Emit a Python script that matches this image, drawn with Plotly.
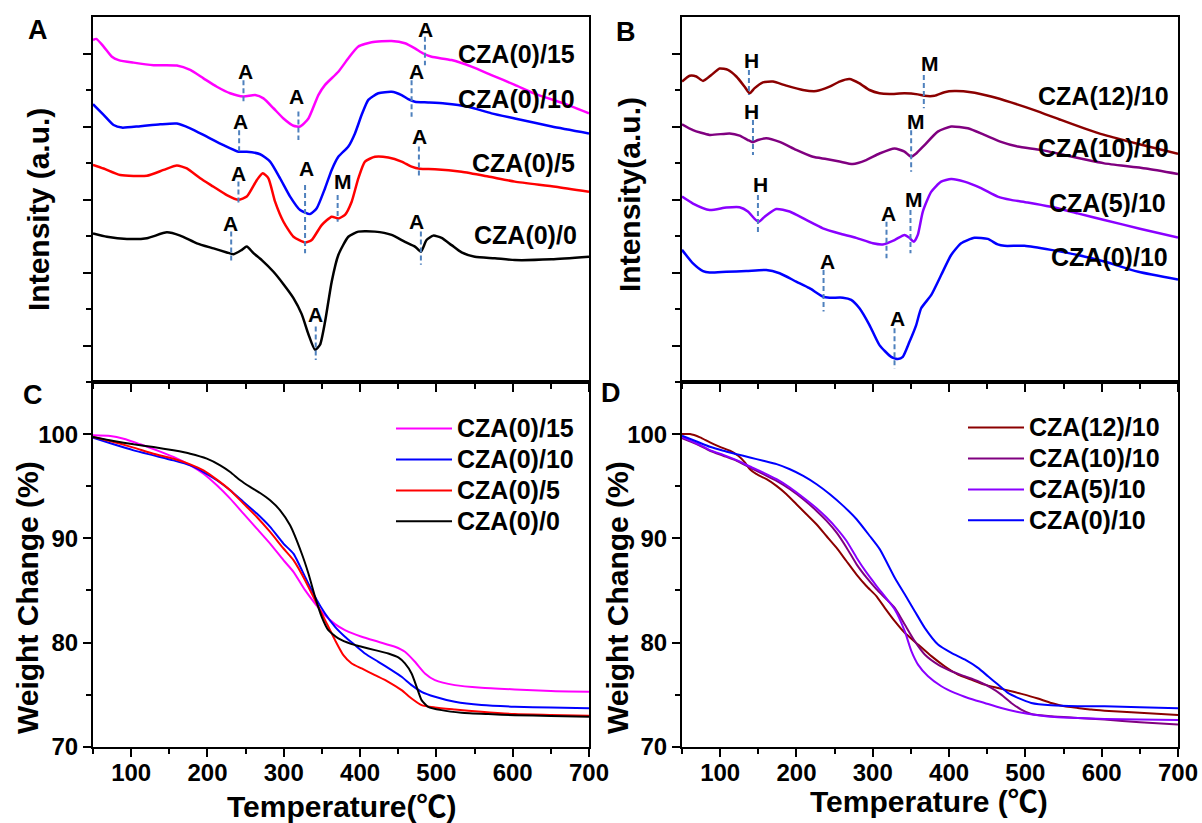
import plotly.graph_objects as go

FONT = "Liberation Sans, Arial, Noto Sans CJK SC, sans-serif"

# ---------------- Panel A (DTA, a.u.) ----------------
A15_T = [50, 54.3, 63.9, 74.8, 83.6, 103.2, 129.4, 159.9, 177.4, 194.8, 212.3, 229.7, 247.2, 262.5, 273.4, 286.5, 299.6, 312.7, 321.4, 332.3, 345.3, 354.1, 371.5, 384.6, 397.7, 415.1, 441.3, 458.8, 471.9, 482.8, 493.7, 519.9, 546.0, 572.2, 602.8, 631.2, 671.3, 700]
A15_v = [9.37, 9.40, 9.19, 8.91, 8.82, 8.75, 8.68, 8.67, 8.55, 8.32, 8.09, 7.91, 7.82, 7.86, 7.77, 7.50, 7.22, 7.02, 7.00, 7.22, 7.86, 8.14, 8.50, 8.87, 9.19, 9.31, 9.34, 9.28, 9.14, 9.00, 8.91, 8.82, 8.64, 8.41, 8.14, 7.88, 7.60, 7.36]

A10_T = [50, 63.9, 77, 87.9, 112, 138.1, 159.9, 177.4, 199.2, 221, 240.6, 251.5, 269, 282.1, 295.2, 308.3, 321.4, 334.4, 343.2, 354.1, 362.8, 371.5, 384.6, 393.3, 402.1, 410.8, 423.9, 441.3, 454.4, 463.1, 471.9, 489.3, 511.1, 541.7, 572.2, 602.8, 651.2, 700]
A10_v = [7.61, 7.32, 7.04, 6.97, 7.01, 7.06, 7.08, 6.95, 6.72, 6.49, 6.31, 6.31, 6.24, 6.04, 5.58, 5.08, 4.71, 4.60, 4.76, 5.31, 5.81, 6.17, 6.45, 6.81, 7.32, 7.73, 7.91, 7.95, 7.86, 7.75, 7.68, 7.66, 7.63, 7.54, 7.36, 7.22, 7.00, 6.81]

A5_T = [50, 63.9, 85.7, 120.6, 142.5, 159.9, 173, 190.5, 208, 225.4, 240.6, 251.5, 264.6, 272.4, 279.9, 288.6, 299.6, 312.7, 327.9, 336.6, 349.7, 362.8, 371.5, 380.2, 389, 397.7, 406.4, 419.5, 437, 454.4, 467.5, 478.4, 498.1, 533, 567.9, 602.8, 656.3, 700]
A5_v = [5.95, 5.85, 5.67, 5.65, 5.81, 5.93, 5.85, 5.58, 5.35, 5.12, 4.99, 5.08, 5.53, 5.72, 5.58, 4.94, 4.39, 3.98, 3.82, 3.89, 4.30, 4.53, 4.48, 4.58, 4.94, 5.58, 6.04, 6.17, 6.15, 6.04, 5.90, 5.84, 5.83, 5.76, 5.63, 5.49, 5.35, 5.21]

A0_T = [50, 68.3, 94.5, 120.6, 146.8, 164.3, 186.1, 208, 225.4, 234.1, 245, 251.5, 260.3, 271.2, 286.5, 299.6, 312.7, 323.5, 332.3, 341, 347.5, 354.1, 362.8, 371.5, 384.6, 397.7, 419.5, 441.3, 458.8, 471.9, 479.7, 487.1, 495.9, 506.8, 519.9, 533, 550.4, 576.6, 602.8, 651, 700]
A0_v = [4.07, 3.98, 3.92, 3.94, 4.10, 4.01, 3.80, 3.66, 3.55, 3.50, 3.62, 3.71, 3.53, 3.34, 3.02, 2.68, 2.30, 1.86, 1.31, 0.88, 1.02, 1.65, 2.75, 3.48, 3.98, 4.12, 4.12, 4.03, 3.84, 3.71, 3.57, 3.89, 4.01, 3.95, 3.75, 3.55, 3.43, 3.39, 3.34, 3.36, 3.43]

A_names = ["CZA(0)/15", "CZA(0)/10", "CZA(0)/5", "CZA(0)/0"]
A_label_T = [684, 684, 684, 687]
A_label_v = [9.00, 7.74, 6.01, 4.03]

A_pk_txt = ["A", "A", "A", "A", "A", "A", "A", "M", "A", "A", "A", "A"]
A_pk_T = [249.3, 317.0, 485.8, 243.0, 474.0, 240.6, 330.1, 378.0, 478.4, 230.7, 474.0, 341.9]
A_pk_v = [8.50, 7.82, 9.67, 7.13, 8.50, 5.72, 5.84, 5.49, 6.72, 4.35, 4.39, 1.84]
A_ln_T = [247.2, 319.2, 485.0, 241.5, 467.5, 240.6, 327.9, 370.6, 477.1, 231.1, 479.7, 341.9]
A_ln_v0 = [8.27, 7.41, 9.46, 6.90, 8.27, 5.49, 5.40, 5.12, 6.45, 4.12, 4.12, 1.52]
A_ln_v1 = [7.63, 6.63, 8.68, 6.26, 7.27, 4.89, 3.53, 4.39, 5.63, 3.25, 3.21, 0.60]

# ---------------- Panel B (DTA, a.u.) ----------------
B12_T = [50, 60.1, 68.8, 77.5, 88.4, 99.3, 110.2, 121.2, 132.1, 138.7, 145.2, 156.1, 169.2, 186.6, 208.4, 225.9, 243.4, 256.4, 269.5, 282.6, 295.7, 308.8, 321.9, 341.6, 359, 367.8, 380.8, 394, 407, 428.8, 455, 481.2, 511.7, 546.6, 577.2, 603.4, 648, 700]
B12_v = [8.23, 8.39, 8.37, 8.25, 8.41, 8.59, 8.55, 8.37, 8.09, 7.91, 8.05, 8.21, 8.23, 8.12, 8.00, 7.97, 8.09, 8.23, 8.30, 8.18, 8.00, 7.91, 7.89, 7.91, 7.88, 7.84, 7.84, 7.94, 7.97, 7.94, 7.82, 7.66, 7.45, 7.18, 6.95, 6.77, 6.52, 6.25]

B10_T = [50, 64.4, 86.2, 112.4, 125.5, 136.4, 142.9, 149.5, 160.4, 177.9, 199.7, 221.5, 239, 256.4, 273.9, 291.3, 308.8, 328.5, 341.6, 350.3, 356.9, 367.8, 385.2, 402.7, 424.5, 446.3, 468.1, 489.9, 520.5, 551, 581.5, 603.4, 658, 700]
B10_v = [7.06, 6.90, 6.77, 6.81, 6.75, 6.63, 6.57, 6.63, 6.68, 6.58, 6.36, 6.17, 6.11, 6.04, 5.97, 6.08, 6.26, 6.40, 6.31, 6.17, 6.26, 6.49, 6.86, 7.00, 6.95, 6.77, 6.58, 6.45, 6.36, 6.22, 6.08, 5.99, 5.85, 5.70]

B5_T = [50, 64.4, 86.2, 108, 125.5, 136.4, 145.2, 150.8, 158.3, 173.5, 191, 212.8, 234.6, 256.4, 278.2, 300.1, 313.2, 328.5, 341.6, 348.1, 353.8, 359, 365.6, 376.5, 389.6, 402.7, 420.1, 441.9, 463.7, 481.2, 503, 533.6, 568.5, 603.4, 650, 700]
B5_v = [5.08, 4.89, 4.71, 4.78, 4.79, 4.67, 4.47, 4.39, 4.53, 4.74, 4.67, 4.44, 4.21, 4.07, 3.95, 3.80, 3.77, 3.89, 4.03, 3.95, 3.84, 4.03, 4.67, 5.21, 5.49, 5.56, 5.49, 5.31, 5.08, 4.99, 4.92, 4.80, 4.62, 4.44, 4.20, 3.96]

B0_T = [50, 64.4, 77.5, 86.2, 108, 134.2, 160.4, 177.9, 199.7, 217.1, 234.6, 243.4, 260.8, 271.7, 282.6, 295.7, 308.8, 324.1, 332.9, 339.4, 348.1, 356.9, 363.4, 376.5, 389.6, 402.7, 415.8, 433.2, 450.7, 463.7, 472.5, 498.7, 533.6, 568.5, 603.4, 648, 700]
B0_v = [3.62, 3.25, 3.04, 3.00, 3.02, 3.04, 3.07, 2.98, 2.75, 2.57, 2.34, 2.31, 2.31, 2.25, 2.02, 1.56, 1.01, 0.69, 0.63, 0.69, 1.10, 1.56, 2.02, 2.38, 2.93, 3.48, 3.80, 3.95, 3.92, 3.77, 3.73, 3.73, 3.62, 3.48, 3.30, 3.02, 2.81]

B_names = ["CZA(12)/10", "CZA(10)/10", "CZA(5)/10", "CZA(0)/10"]
B_label_T = [691, 691, 687.5, 689.5]
B_label_v = [7.84, 6.42, 4.91, 3.43]

B_pk_txt = ["H", "M", "H", "M", "H", "A", "M", "A", "A"]
B_pk_T = [140.8, 375.6, 140.8, 356.9, 152.6, 321.0, 353.8, 241.2, 332.9]
B_pk_v = [8.82, 8.73, 7.41, 7.15, 5.40, 4.62, 4.99, 3.30, 1.74]
B_ln_T = [137.7, 366.9, 143.0, 350.3, 149.5, 318.0, 349.4, 235.5, 328.5]
B_ln_v0 = [8.55, 8.41, 7.18, 6.90, 5.12, 4.39, 4.71, 3.07, 1.47]
B_ln_v1 = [7.86, 7.50, 6.22, 5.76, 4.07, 3.39, 3.53, 1.93, 0.37]

# ---------------- Panel C (TGA, %) ----------------
C15_T = [50, 72.7, 90.2, 112, 133.8, 155.5, 177.4, 194.8, 212.3, 229.8, 247.2, 264.7, 282.1, 299.6, 312.7, 327.9, 341, 354.1, 367.2, 380.2, 402.1, 423.9, 445.7, 458.8, 471.9, 485, 498.1, 524.2, 559.1, 602.8, 650, 700]
C15_W = [99.88, 99.82, 99.56, 99.02, 98.44, 97.80, 97.00, 96.20, 95.09, 93.81, 92.37, 90.93, 89.49, 87.90, 86.78, 85.02, 83.74, 82.62, 81.76, 81.19, 80.55, 80.07, 79.59, 79.11, 78.15, 77.03, 76.39, 75.91, 75.66, 75.50, 75.35, 75.28]

C10_T = [50, 77, 103.2, 129.3, 155.5, 177.4, 194.8, 212.3, 229.8, 247.2, 264.7, 282.1, 299.6, 312.7, 327.9, 341, 354.1, 367.2, 380.2, 393.3, 406.4, 423.9, 441.3, 454.4, 467.5, 480.6, 498.1, 524.2, 559.1, 602.8, 650, 700]
C10_W = [99.66, 99.02, 98.44, 97.96, 97.48, 97.00, 96.36, 95.57, 94.61, 93.49, 92.37, 91.09, 89.49, 88.53, 86.30, 84.38, 82.78, 81.50, 80.55, 79.75, 78.95, 78.15, 77.35, 76.71, 75.91, 75.27, 74.79, 74.31, 73.99, 73.83, 73.75, 73.68]

C5_T = [50, 77, 103.2, 129.3, 155.5, 177.4, 194.8, 212.3, 229.8, 247.2, 264.7, 282.1, 299.6, 312.7, 327.9, 341, 354.1, 367.2, 378.1, 389, 402.1, 419.5, 437, 454.4, 467.5, 480.6, 498.1, 524.2, 559.1, 602.8, 650, 700]
C5_W = [99.72, 99.24, 98.70, 98.12, 97.64, 97.10, 96.52, 95.63, 94.61, 93.33, 92.05, 90.61, 89.02, 87.90, 85.98, 84.06, 82.15, 80.23, 78.79, 77.99, 77.51, 76.87, 76.23, 75.43, 74.63, 73.99, 73.77, 73.58, 73.35, 73.13, 73.05, 72.97]

C0_T = [50, 77, 103.2, 129.3, 155.5, 177.4, 199.2, 216.7, 229.8, 242.9, 255.9, 269, 282.1, 295.2, 308.3, 323.5, 332.3, 341, 349.7, 358.4, 371.5, 389, 402.1, 419.5, 437, 450.1, 458.8, 467.5, 474.1, 480.6, 489.3, 506.8, 533, 567.9, 602.8, 650, 700]
C0_W = [99.72, 99.34, 99.02, 98.76, 98.44, 98.12, 97.64, 97.00, 96.36, 95.57, 94.93, 94.35, 93.65, 92.69, 91.25, 88.54, 86.62, 84.38, 82.47, 81.19, 80.39, 79.84, 79.59, 79.27, 78.95, 78.57, 77.99, 77.03, 75.75, 74.47, 73.83, 73.51, 73.26, 73.13, 73.03, 72.95, 72.88]

# ---------------- Panel D (TGA, %) ----------------
D12_T = [50, 60.5, 73.6, 86.6, 99.7, 112.8, 123.7, 132.4, 139.0, 147.7, 160.8, 173.8, 186.9, 200.0, 213.1, 226.2, 239.3, 252.4, 265.4, 278.5, 291.6, 304.7, 315.7, 328.8, 341.9, 359.3, 376.8, 394.2, 411.7, 429.1, 446.6, 464.1, 481.5, 499, 516.4, 533.9, 551.3, 568.8, 586.2, 603.7, 650, 700]
D12_W = [100.0, 100.0, 99.68, 99.20, 98.78, 98.40, 97.92, 97.28, 96.63, 96.15, 95.67, 95.03, 94.23, 93.27, 92.31, 91.35, 90.22, 89.10, 87.82, 86.54, 85.42, 84.46, 83.33, 82.05, 80.93, 79.81, 78.69, 77.72, 76.92, 76.44, 75.96, 75.64, 75.32, 75.00, 74.62, 74.20, 73.88, 73.72, 73.56, 73.46, 73.25, 73.04]

D10_T = [50, 69.2, 86.6, 104.1, 121.6, 139.0, 156.5, 174, 191.4, 208.9, 226.4, 239.5, 252.6, 265.7, 278.8, 291.9, 305, 328.8, 341.9, 355, 368.1, 385.5, 403, 420.4, 437.9, 455.3, 468.4, 481.5, 494.6, 507.7, 533.9, 568.8, 603.7, 650, 700]
D10_W = [99.62, 99.04, 98.40, 97.92, 97.44, 96.79, 96.15, 95.51, 94.71, 93.75, 92.63, 91.67, 90.54, 89.10, 87.50, 86.22, 85.10, 83.33, 81.73, 80.13, 78.85, 77.88, 77.24, 76.76, 76.28, 75.64, 75.00, 74.20, 73.56, 73.14, 72.92, 72.76, 72.60, 72.35, 72.14]

D5_T = [50, 69.2, 86.6, 104.1, 121.6, 139, 156.5, 174, 191.4, 208.9, 226.4, 239.5, 252.6, 265.7, 278.8, 291.9, 305, 328.8, 341.9, 350.6, 359.3, 372.4, 389.9, 407.3, 424.8, 446.6, 468.4, 490.2, 516.4, 542.6, 568.8, 603.7, 650, 700]
D5_W = [99.74, 99.10, 98.46, 98.01, 97.50, 96.89, 96.31, 95.67, 94.87, 93.91, 92.88, 91.99, 90.96, 89.74, 88.14, 86.70, 85.42, 83.17, 81.09, 79.17, 77.88, 76.76, 75.80, 75.16, 74.68, 74.20, 73.72, 73.33, 73.01, 72.82, 72.76, 72.66, 72.60, 72.56]

D0_T = [50, 69.2, 86.6, 104.1, 121.6, 139, 156.5, 174, 191.4, 208.9, 226.4, 243.8, 261.3, 278.8, 296.1, 309.3, 328.8, 341.9, 355, 368.1, 385.5, 403, 420.4, 437.9, 451, 464.1, 477.1, 490.2, 507.7, 533.9, 568.8, 603.7, 650, 700]
D0_W = [99.84, 99.29, 98.78, 98.40, 98.08, 97.76, 97.44, 97.12, 96.63, 95.99, 95.19, 94.23, 93.11, 91.83, 90.22, 88.94, 86.22, 84.62, 83.01, 81.41, 79.81, 79.01, 78.37, 77.56, 76.76, 75.96, 75.16, 74.68, 74.20, 73.97, 73.88, 73.88, 73.78, 73.68]

C_names = ["CZA(0)/15", "CZA(0)/10", "CZA(0)/5", "CZA(0)/0"]
D_names = ["CZA(12)/10", "CZA(10)/10", "CZA(5)/10", "CZA(0)/10"]

COL_A = ["#FF00FF", "#0000FF", "#FF0000", "#000000"]
COL_B = ["#8B0000", "#800080", "#8A00FF", "#0000FF"]
DASH_COL = "#4F81BD"

fig = go.Figure()


def curve(x, y, color, width, xa, ya, name=None, legend=None, show=False):
    fig.add_trace(go.Scatter(
        x=x, y=y, mode="lines", name=name, showlegend=show,
        legend=legend if legend else "legend",
        line=dict(color=color, width=width, shape="spline", smoothing=0.55),
        xaxis=xa, yaxis=ya, hoverinfo="skip"))


def dashes(xs, v0, v1, xa, ya):
    X, Y = [], []
    for x, a, b in zip(xs, v0, v1):
        X += [x, x, None]
        Y += [a, b, None]
    fig.add_trace(go.Scatter(x=X, y=Y, mode="lines", showlegend=False,
                             line=dict(color=DASH_COL, width=2, dash="5px,3px"),
                             xaxis=xa, yaxis=ya, hoverinfo="skip"))


def legname(n):
    return '<span style="font-size:25px">' + n + '</span>'


# Panel A
for (t, v), c in zip([(A15_T, A15_v), (A10_T, A10_v), (A5_T, A5_v), (A0_T, A0_v)], COL_A):
    curve(t, v, c, 2.5, "x", "y")
dashes(A_ln_T, A_ln_v0, A_ln_v1, "x", "y")

# Panel B
for (t, v), c in zip([(B12_T, B12_v), (B10_T, B10_v), (B5_T, B5_v), (B0_T, B0_v)], COL_B):
    curve(t, v, c, 2.5, "x2", "y2")
dashes(B_ln_T, B_ln_v0, B_ln_v1, "x2", "y2")

# Panel C
for (t, w), c, n in zip([(C15_T, C15_W), (C10_T, C10_W), (C5_T, C5_W), (C0_T, C0_W)], COL_A, C_names):
    curve(t, w, c, 2, "x3", "y3", name=legname(n), legend="legend", show=True)

# Panel D
for (t, w), c, n in zip([(D12_T, D12_W), (D10_T, D10_W), (D5_T, D5_W), (D0_T, D0_W)], COL_B, D_names):
    curve(t, w, c, 2, "x4", "y4", name=legname(n), legend="legend2", show=True)

W_, H_ = 1202, 823
def px_x(p):
    return p / W_
def px_y(p):
    return 1 - p / H_

xdomL = [px_x(93), px_x(589)]
xdomR = [px_x(682), px_x(1178)]
ydomT = [px_y(382), px_y(17)]
ydomB = [px_y(746.7), px_y(382)]

tickfont = dict(family=FONT, size=24, color="black", weight="bold")

def xax(domain, anchor, labels):
    return dict(domain=domain, anchor=anchor, range=[50, 700], showline=True, linewidth=2,
                linecolor="black", mirror=True, ticks="outside", ticklen=8, tickwidth=2,
                tickcolor="black", tick0=0, dtick=100, showgrid=False, zeroline=False,
                showticklabels=labels, tickfont=tickfont, ticklabelstandoff=-5,
                minor=dict(ticks="outside", ticklen=5, tickwidth=2, tickcolor="black", dtick=50, tick0=0, showgrid=False))

def yax_top(domain, anchor):
    return dict(domain=domain, anchor=anchor, range=[0, 10], showline=True, linewidth=2,
                linecolor="black", mirror=True, ticks="outside", ticklen=8, tickwidth=2,
                tickcolor="black", tickvals=[1, 3, 5, 7, 9], showticklabels=False,
                showgrid=False, zeroline=False,
                minor=dict(ticks="outside", ticklen=5, tickwidth=2, tickcolor="black", tickvals=[2, 4, 6, 8], showgrid=False))

def yax_bot(domain, anchor):
    return dict(domain=domain, anchor=anchor, range=[70, 105], showline=True, linewidth=2,
                linecolor="black", mirror=True, ticks="outside", ticklen=8, tickwidth=2,
                tickcolor="black", tick0=0, dtick=10, showgrid=False, zeroline=False,
                tickfont=tickfont,
                minor=dict(ticks="outside", ticklen=5, tickwidth=2, tickcolor="black", dtick=5, tick0=0, showgrid=False))

annotations = []

def ann(text, x, y, size, xref="paper", yref="paper", xanchor="center", yanchor="middle", angle=0):
    annotations.append(dict(text=text, x=x, y=y, xref=xref, yref=yref, xanchor=xanchor,
                            yanchor=yanchor, showarrow=False, textangle=angle,
                            font=dict(family=FONT, size=size, color="black", weight="bold")))

# Panel letters
ann("A", px_x(38), px_y(30), 27)
ann("B", px_x(626), px_y(32), 27)
ann("C", px_x(33), px_y(395), 27)
ann("D", px_x(611), px_y(393), 27)

# Axis titles
ann("Intensity (a.u.)", px_x(38), px_y(210), 30, angle=-90)
ann("Intensity(a.u.)", px_x(629), px_y(195), 30, angle=-90)
ann("Weight Change (%)", px_x(27), px_y(598), 30, angle=-90)
ann("Weight Change (%)", px_x(617), px_y(598), 30, angle=-90)
ann("Temperature(℃)", px_x(341), px_y(806), 30)
ann("Temperature (℃)", px_x(929), px_y(801), 30)

# Curve labels
for n, t, v in zip(A_names, A_label_T, A_label_v):
    ann(n, t, v, 25, xref="x", yref="y", xanchor="right")
for n, t, v in zip(B_names, B_label_T, B_label_v):
    ann(n, t, v, 25, xref="x2", yref="y2", xanchor="right")

# Peak letters
for s, t, v in zip(A_pk_txt, A_pk_T, A_pk_v):
    ann(s, t, v, 21, xref="x", yref="y")
for s, t, v in zip(B_pk_txt, B_pk_T, B_pk_v):
    ann(s, t, v, 21, xref="x2", yref="y2")

legfont = dict(family=FONT, size=21.5, color="black", weight="bold")

fig.update_layout(
    width=W_, height=H_,
    margin=dict(l=0, r=0, t=0, b=0, autoexpand=False),
    paper_bgcolor="white", plot_bgcolor="white",
    showlegend=True,
    xaxis=xax(xdomL, "y", False),
    yaxis=yax_top(ydomT, "x"),
    xaxis2=xax(xdomR, "y2", False),
    yaxis2=yax_top(ydomT, "x2"),
    xaxis3=xax(xdomL, "y3", True),
    yaxis3=yax_bot(ydomB, "x3"),
    xaxis4=xax(xdomR, "y4", True),
    yaxis4=yax_bot(ydomB, "x4"),
    legend=dict(x=px_x(391), y=px_y(408), xanchor="left", yanchor="top", font=legfont,
                bgcolor="rgba(0,0,0,0)", borderwidth=0, itemwidth=56, tracegroupgap=0),
    legend2=dict(x=px_x(963), y=px_y(407), xanchor="left", yanchor="top", font=legfont,
                 bgcolor="rgba(0,0,0,0)", borderwidth=0, itemwidth=56, tracegroupgap=0),
    annotations=annotations,
)

fig.write_html("out.html")
